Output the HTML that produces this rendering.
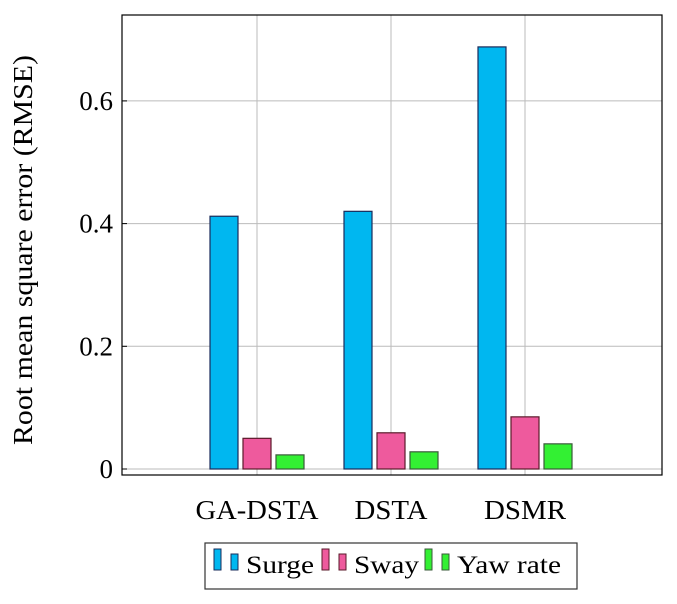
<!DOCTYPE html>
<html><head><meta charset="utf-8"><style>
body{margin:0;background:#fff;}
svg text{font-family:"Liberation Serif","DejaVu Serif",serif;}
</style></head><body>
<svg id="c" width="677" height="599"></svg>
<script>
const categories=["GA-DSTA","DSTA","DSMR"];
const seriesNames=["Surge","Sway","Yaw rate"];
const surge=[0.412,0.420,0.688];
const sway=[0.050,0.059,0.085];
const yawRate=[0.023,0.028,0.041];
const yTicks=[0,0.2,0.4,0.6];
const series=[surge,sway,yawRate];
const colors=["#00b7f0","#ee5a9d","#33f033"];
const strokes=["#1a2b5a","#5a1a2a","#3a5a3a"];
const NS="http://www.w3.org/2000/svg";
const FF='"Liberation Serif", "DejaVu Serif", serif';
const svg=document.getElementById('c');
function mk(t,a,p){const e=document.createElementNS(NS,t);for(const k in a)e.setAttribute(k,a[k]);if(t==='text')e.setAttribute('font-family',FF);(p||svg).appendChild(e);return e;}
const L=122,R=662,T=15,B=475;
const y=v=>469-v*613.5;
const x=i=>257+i*134;
const off=[-33,0,33],bw=28;
const catW=[123,73,82];
for(const t of yTicks){const g=mk('line',{x1:L,x2:R,y1:y(t),y2:y(t),stroke:'#bbb','stroke-width':1});
}
categories.forEach((c,i)=>{const g=mk('line',{x1:x(i),x2:x(i),y1:T,y2:B,stroke:'#bbb','stroke-width':1});
});
series.forEach((s,si)=>s.forEach((v,i)=>{const cx=x(i)+off[si];
const r=mk('rect',{x:cx-bw/2,y:y(v),width:bw,height:469-y(v),fill:colors[si],stroke:strokes[si],'stroke-width':1.2});

}));
const ax=mk('rect',{x:L,y:T,width:R-L,height:B-T,fill:'none',stroke:'#000','stroke-width':1.2});

for(const t of yTicks){
const tk=mk('line',{x1:L,x2:L+5,y1:y(t),y2:y(t),stroke:'#000'});
const tx=mk('text',{x:L-9,y:y(t)+9,'text-anchor':'end','font-size':27});tx.textContent=t===0?'0':t.toFixed(1);
}
categories.forEach((c,i)=>{const tx=mk('text',{x:x(i)-catW[i]/2,y:519,'font-size':27,textLength:catW[i],lengthAdjust:'spacingAndGlyphs'});tx.textContent=c;
});
const yt=mk('text',{x:-195,y:0,'font-size':27,textLength:390,lengthAdjust:'spacingAndGlyphs',transform:'translate(32,250) rotate(-90)'});yt.textContent='Root mean square error (RMSE)';

const lg=mk('g',{});
mk('rect',{x:205,y:543,width:372,height:46,fill:'#fff',stroke:'#333','stroke-width':1.2},lg);
const lx=[214,322,425],lw=[68,65,104];
seriesNames.forEach((n,si)=>{const g=mk('g',{},lg);
mk('rect',{x:lx[si],y:549,width:7,height:21,fill:colors[si],stroke:strokes[si]},g);
mk('rect',{x:lx[si]+17,y:554,width:7,height:16,fill:colors[si],stroke:strokes[si]},g);
const t=mk('text',{x:lx[si]+32,y:573,'font-size':25,textLength:lw[si],lengthAdjust:'spacingAndGlyphs'},g);t.textContent=n;});
</script>
</body></html>
